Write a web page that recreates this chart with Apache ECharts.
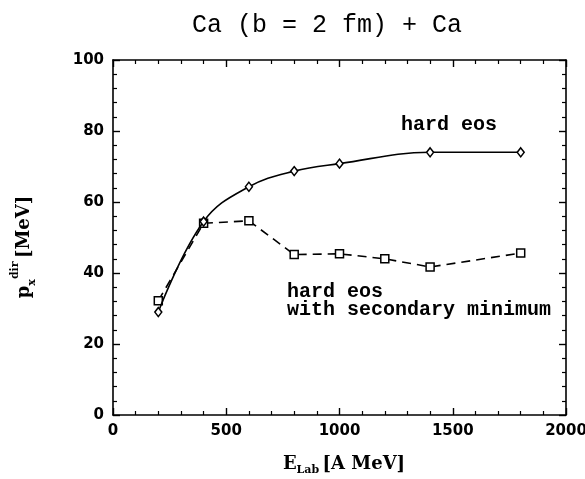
<!DOCTYPE html>
<html>
<head>
<meta charset="utf-8">
<script src="https://cdn.jsdelivr.net/npm/echarts@6/dist/echarts.min.js"></script>
<style>html,body{margin:0;padding:0;background:#fff;}#c{width:585px;height:479px;}</style>
</head>
<body>
<div id="c"></div>
<script>
// Data
const hardE = [200, 400, 600, 800, 1000, 1400, 1800];
const hardP = [29, 54.5, 64.3, 68.7, 70.8, 74.0, 74.0];
const secE = [200, 400, 600, 800, 1000, 1200, 1400, 1800];
const secP = [32.2, 54, 54.7, 45.2, 45.4, 44.0, 41.7, 45.6];
const xTicks = [0, 500, 1000, 1500, 2000];
const yTicks = [0, 20, 40, 60, 80, 100];

const titleText = 'Ca (b = 2 fm) + Ca';
const label1 = 'hard eos';
const label2a = 'hard eos';
const label2b = 'with secondary minimum';

const chart = echarts.init(document.getElementById('c'), null, {renderer: 'canvas'});
const axisLine = {show: true, onZero: false, lineStyle: {color: '#000', width: 1.6}};
const tickFont = {fontFamily: 'DejaVu Sans', fontWeight: 'bold', fontSize: 15, color: '#000'};
function mkAxis(pos, showLabel, ticks) {
  return {
    type: 'value', position: pos, min: ticks[0], max: ticks[ticks.length-1],
    interval: ticks[1]-ticks[0],
    axisLine: axisLine,
    axisTick: {show: true, inside: true, length: 7, lineStyle: {color: '#000', width: 1.4}},
    minorTick: {show: true, splitNumber: 5, length: 4, lineStyle: {color: '#000', width: 1.2}},
    axisLabel: Object.assign({show: showLabel, margin: 9, formatter: v => String(v)}, tickFont),
    splitLine: {show: false}
  };
}
const serif = 'DejaVu Serif';
const mono = 'Liberation Mono';
chart.setOption({
  animation: false,
  backgroundColor: '#fff',
  grid: {left: 113, right: 19, top: 60, bottom: 64, outerBoundsMode: 'none', containLabel: false},
  xAxis: [mkAxis('bottom', true, xTicks), mkAxis('top', false, xTicks)],
  yAxis: [mkAxis('left', true, yTicks), mkAxis('right', false, yTicks)],
  series: [
    {
      name: 'hard eos', type: 'line', xAxisIndex: 0, yAxisIndex: 0,
      data: hardE.map((e, i) => [e, hardP[i]]),
      smooth: 0.4,
      symbol: 'diamond', symbolSize: [7, 9],
      itemStyle: {color: '#fff', borderColor: '#000', borderWidth: 1.5},
      lineStyle: {color: '#000', width: 1.6, type: 'solid'},
      z: 3
    },
    {
      name: 'hard eos with secondary minimum', type: 'line', xAxisIndex: 0, yAxisIndex: 0,
      data: secE.map((e, i) => [e, secP[i]]),
      smooth: false,
      symbol: 'rect', symbolSize: 8,
      itemStyle: {color: '#fff', borderColor: '#000', borderWidth: 1.5},
      lineStyle: {color: '#000', width: 1.6, type: [9, 6]},
      z: 2
    }
  ],
  graphic: [
    {type: 'text', x: 327, y: 25, style: {text: titleText, font: 'normal 25px "' + mono + '"', fill: '#000', textAlign: 'center', textVerticalAlign: 'middle'}},
    {type: 'text', x: 401, y: 125, style: {text: label1, font: 'bold 20px "' + mono + '"', fill: '#000', textAlign: 'left', textVerticalAlign: 'middle'}},
    {type: 'text', x: 287, y: 292, style: {text: label2a, font: 'bold 20px "' + mono + '"', fill: '#000', textAlign: 'left', textVerticalAlign: 'middle'}},
    {type: 'text', x: 287, y: 310, style: {text: label2b, font: 'bold 20px "' + mono + '"', fill: '#000', textAlign: 'left', textVerticalAlign: 'middle'}},
    {type: 'text', x: 344, y: 464, style: {
      text: '{a|E}{s|Lab} {a|[A MeV]}', textAlign: 'center', textVerticalAlign: 'middle',
      rich: {
        a: {fontFamily: serif, fontWeight: 'bold', fontSize: 18, lineHeight: 23, color: '#000'},
        s: {fontFamily: serif, fontWeight: 'bold', fontSize: 11, verticalAlign: 'bottom', color: '#000'}
      }
    }},
    {type: 'text', x: 24, y: 247, rotation: Math.PI / 2, style: {
      text: '{a|p}{s|x}{t|dir} {a|[MeV]}', textAlign: 'center', textVerticalAlign: 'middle',
      rich: {
        a: {fontFamily: serif, fontWeight: 'bold', fontSize: 18, lineHeight: 28, color: '#000'},
        s: {fontFamily: serif, fontWeight: 'bold', fontSize: 11, verticalAlign: 'bottom', color: '#000'},
        t: {fontFamily: serif, fontWeight: 'bold', fontSize: 11, verticalAlign: 'top', color: '#000'}
      }
    }}
  ]
});
</script>
</body>
</html>
